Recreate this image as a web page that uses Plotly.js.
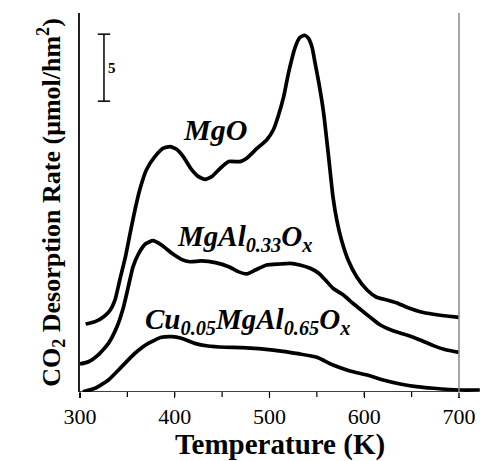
<!DOCTYPE html>
<html>
<head>
<meta charset="utf-8">
<script src="https://cdn.plot.ly/plotly-3.0.1.min.js"></script>
<style>html,body{margin:0;padding:0;background:#fff;}#chart{width:480px;height:461px;}</style>
</head>
<body>
<div id="chart"></div>
<script>
// Temperature (K) and CO2 desorption rate (offset curves, arbitrary baseline)
const mgoT = [306,316,325,332,337,342,348,353,358,363,370,379,388,395,402,409,418,425,432,439,448,457,469,476,487,497,504,509,515,520,527,532,537,541,545,548,552,557,562,567,571,576,583,592,603,613,624,634,645,659,673,687,700];
const mgoY = [5.07,5.25,5.62,6.12,6.87,8.36,10.1,11.87,13.58,15.07,16.57,17.56,18.19,18.31,18.11,17.56,16.57,16.07,15.87,16.07,16.69,17.19,17.19,17.44,18.19,18.81,19.55,20.54,22.04,23.78,25.7,26.45,26.62,26.4,25.7,24.6,23.1,20.9,17.81,14.57,12.84,11.34,9.85,8.6,7.61,7.07,6.87,6.66,6.32,5.99,5.8,5.67,5.57];

const mgalT = [300,309,319,330,339,346,351,356,362,369,377,386,397,407,416,428,443,457,467,476,485,497,511,522,532,543,552,559,567,578,588,599,610,617,631,645,659,673,687,700];
const mgalY = [2.09,2.26,2.76,3.63,4.87,6.37,7.86,9.35,10.35,11.04,11.29,10.97,10.35,9.9,9.72,9.78,9.65,9.35,8.98,8.81,9.1,9.48,9.55,9.6,9.48,9.23,8.86,8.36,7.74,7.24,6.62,5.99,5.37,5.0,4.55,4.25,3.88,3.46,3.13,2.96];

const cuT = [303,316,330,344,358,372,386,397,407,421,435,453,471,504,532,550,567,585,603,620,638,655,673,700,722];
const cuY = [0.02,0.28,0.9,1.89,2.89,3.63,4.08,4.13,4.01,3.63,3.43,3.34,3.31,3.13,2.84,2.59,2.01,1.57,1.27,0.9,0.6,0.4,0.28,0.15,0.15];

const tickPositions = [300,350,400,450,500,550,600,650,700];
const scaleBarValue = 5;   // scale bar length in rate units
const scaleBarX = 325.3;
const scaleBarBottom = 21.7;

const xRange = [300, 722.2];
const line = {color:'#000', width:3.7, shape:'spline', smoothing:0.5};
const traces = [
  {x: mgoT, y: mgoY, type:'scatter', mode:'lines', line: line, name:'MgO'},
  {x: mgalT, y: mgalY, type:'scatter', mode:'lines', line: line, name:'MgAl0.33Ox'},
  {x: cuT, y: cuY, type:'scatter', mode:'lines', line: line, name:'Cu0.05MgAl0.65Ox'}
];

const plotH = 461 - 13 - 69;
const toPaperX = v => (v - xRange[0]) / (xRange[1] - xRange[0]);
const tickShapes = tickPositions.map(v => ({type:'line', xref:'paper', yref:'paper', x0:toPaperX(v), x1:toPaperX(v), y0:0, y1:-5/plotH,
  line:{color: v === 700 ? '#888' : '#000', width:1.2}}));

const serif = '"Liberation Serif", "Times New Roman", Times, serif';
const layout = {
  width: 480, height: 461,
  margin: {l:80, r:0, t:13, b:69},
  paper_bgcolor:'#fff', plot_bgcolor:'#fff',
  showlegend: false,
  font: {family: serif, color:'#000'},
  xaxis: {
    range: xRange, showgrid:false, zeroline:false, showline:false,
    tickmode:'linear', tick0:300, dtick:100,
    ticks:'outside', ticklen:5, tickwidth:1.2, tickcolor:'#000',
    tickfont:{family: serif, size:22, color:'#000'},
    title:{text:'<b>Temperature (K)</b>', font:{family: serif, size:29, color:'#000'}, standoff:7}
  },
  yaxis: {
    range: [0, 28.28], showgrid:false, zeroline:false, showticklabels:false, ticks:'',
    showline:true, linecolor:'#222', linewidth:2,
    title:{text:'<b>CO<sub>2</sub> Desorption Rate (μmol/hm<sup>2</sup>)</b>', font:{family: serif, size:26, color:'#000'}, standoff:10}
  },
  shapes: [
    {type:'line', xref:'x', yref:'y', x0:300, x1:700, y0:0, y1:0, line:{color:'#000', width:1.5}},
    {type:'line', xref:'x', yref:'paper', x0:700, x1:700, y0:0, y1:1, line:{color:'#888', width:1.5}},
    {type:'line', xref:'x', yref:'y', x0:scaleBarX, x1:scaleBarX, y0:scaleBarBottom, y1:scaleBarBottom+scaleBarValue, line:{color:'#000', width:1.5}},
    {type:'line', xref:'x', yref:'y', x0:scaleBarX-6.5, x1:scaleBarX+6.5, y0:scaleBarBottom, y1:scaleBarBottom, line:{color:'#000', width:1.5}},
    {type:'line', xref:'x', yref:'y', x0:scaleBarX-6.5, x1:scaleBarX+6.5, y0:scaleBarBottom+scaleBarValue, y1:scaleBarBottom+scaleBarValue, line:{color:'#000', width:1.5}}
  ].concat(tickShapes),
  annotations: [
    {xref:'x', yref:'y', x:scaleBarX+2.5, y:scaleBarBottom+scaleBarValue/2, xanchor:'left', yanchor:'middle', showarrow:false,
     text:'<b>'+scaleBarValue+'</b>', font:{family: serif, size:15, color:'#000'}},
    {xref:'x', yref:'y', x:443, y:19.6, xanchor:'center', yanchor:'middle', showarrow:false,
     text:'<b><i>MgO</i></b>', font:{family: serif, size:30, color:'#000'}},
    {xref:'x', yref:'y', x:474, y:11.5, xanchor:'center', yanchor:'middle', showarrow:false,
     text:'<b><i>MgAl<sub>0.33</sub>O<sub>x</sub></i></b>', font:{family: serif, size:29, color:'#000'}},
    {xref:'x', yref:'y', x:477, y:5.3, xanchor:'center', yanchor:'middle', showarrow:false,
     text:'<b><i>Cu<sub>0.05</sub>MgAl<sub>0.65</sub>O<sub>x</sub></i></b>', font:{family: serif, size:29, color:'#000'}}
  ]
};
Plotly.newPlot('chart', traces, layout, {staticPlot:true, displayModeBar:false});
</script>
</body>
</html>
